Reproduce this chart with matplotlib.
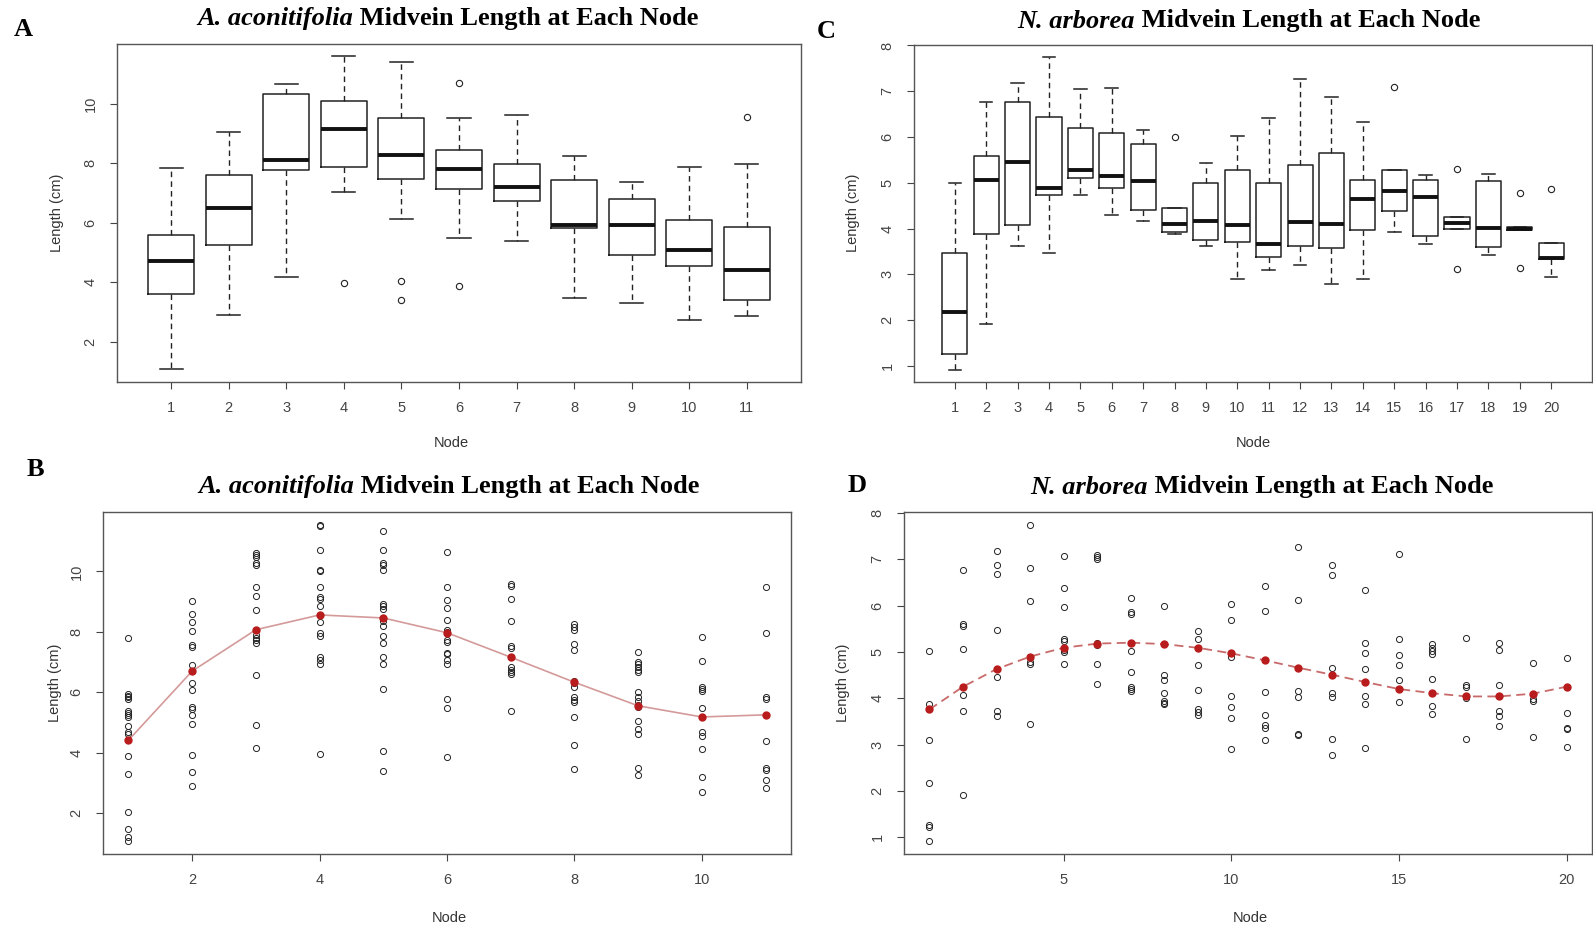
import numpy as np
import matplotlib
matplotlib.use("Agg")
import matplotlib.pyplot as plt

# ---- data ----
a_nodes = list(range(1, 12))
a_whislo = [1.09, 2.90, 4.16, 7.03, 6.13, 5.47, 5.38, 3.47, 3.28, 2.71, 2.85]
a_q1 = [3.60, 5.24, 7.77, 7.87, 7.45, 7.12, 6.74, 5.80, 4.91, 4.53, 3.41]
a_med = [4.70, 6.50, 8.11, 9.16, 8.26, 7.80, 7.19, 5.92, 5.92, 5.07, 4.42]
a_q3 = [5.57, 7.59, 10.32, 10.08, 9.52, 8.44, 7.97, 7.42, 6.80, 6.09, 5.85]
a_whishi = [7.83, 9.04, 10.65, 11.59, 11.39, 9.51, 9.61, 8.24, 7.36, 7.88, 7.97]
a_fliers = [[], [], [], [3.97], [4.04, 3.41], [10.69, 3.88], [], [], [], [], [9.55]]

c_nodes = list(range(1, 21))
c_whislo = [0.92, 1.92, 3.63, 3.46, 4.74, 4.29, 4.17, 3.88, 3.63, 2.91,
            3.10, 3.21, 2.80, 2.91, 3.93, 3.66, 3.99, 3.42, 3.96, 2.94]
c_q1 = [1.26, 3.88, 4.08, 4.74, 5.11, 4.89, 4.41, 3.93, 3.75, 3.70,
        3.39, 3.63, 3.57, 3.96, 4.38, 3.84, 3.99, 3.60, 3.96, 3.33]
c_med = [2.17, 5.06, 5.46, 4.88, 5.27, 5.15, 5.03, 4.10, 4.16, 4.07,
         3.66, 4.15, 4.10, 4.64, 4.82, 4.68, 4.13, 4.01, 4.00, 3.36]
c_q3 = [3.46, 5.59, 6.76, 6.44, 6.19, 6.09, 5.85, 4.44, 5.00, 5.28,
        5.00, 5.40, 5.66, 5.07, 5.28, 5.07, 4.26, 5.04, 4.04, 3.69]
c_whishi = [5.00, 6.76, 7.18, 7.74, 7.05, 7.08, 6.16, 4.45, 5.43, 6.03,
            6.42, 7.26, 6.87, 6.33, 5.28, 5.17, 4.26, 5.20, 4.04, 3.69]
c_fliers = [[], [], [], [], [], [], [], [6.00], [], [],
            [], [], [], [], [7.10], [], [5.31, 3.12], [], [4.78, 3.15], [4.86]]

b_points = [
    [7.79, 5.95, 5.89, 5.84, 5.78, 5.37, 5.30, 5.25, 5.19, 4.88, 4.67, 4.61, 3.89, 3.29, 2.03, 1.48, 1.21, 1.06],
    [9.01, 8.60, 8.33, 8.02, 7.57, 7.50, 6.90, 6.71, 6.30, 6.07, 5.52, 5.43, 5.25, 4.95, 3.93, 3.34, 2.90],
    [10.60, 10.55, 10.47, 10.29, 10.23, 9.50, 9.18, 8.73, 8.07, 7.89, 7.78, 7.72, 7.63, 6.57, 4.90, 4.15],
    [11.55, 11.49, 10.72, 10.06, 10.00, 9.50, 9.15, 9.10, 8.84, 8.33, 7.96, 7.85, 7.15, 7.08, 6.95, 3.95],
    [11.35, 10.72, 10.27, 10.20, 10.06, 8.91, 8.84, 8.77, 8.47, 8.35, 8.18, 7.85, 7.64, 7.18, 6.95, 6.10, 4.04, 3.38],
    [10.64, 9.48, 9.07, 8.79, 8.40, 8.05, 8.00, 7.72, 7.67, 7.31, 7.25, 7.06, 6.95, 5.76, 5.47, 3.87],
    [9.57, 9.52, 9.08, 8.35, 7.53, 7.48, 7.15, 6.82, 6.74, 6.66, 6.60, 5.38],
    [8.25, 8.16, 8.07, 7.59, 7.39, 6.37, 6.29, 6.16, 5.85, 5.74, 5.66, 5.18, 4.26, 3.45],
    [7.34, 7.01, 6.92, 6.84, 6.75, 6.68, 6.02, 5.85, 5.71, 5.59, 5.52, 5.03, 4.79, 4.61, 3.49, 3.27],
    [7.83, 7.02, 6.18, 6.09, 6.04, 5.47, 5.19, 4.67, 4.56, 4.12, 3.18, 2.70],
    [9.50, 7.95, 5.83, 5.77, 4.39, 3.49, 3.43, 3.10, 2.83],
]
b_means = [4.41, 6.70, 8.07, 8.56, 8.46, 7.97, 7.16, 6.33, 5.55, 5.18, 5.25]

d_points = [
    [5.02, 3.87, 3.09, 2.17, 1.27, 1.22, 0.91],
    [6.77, 5.61, 5.57, 5.07, 4.07, 3.72, 1.92],
    [7.18, 6.87, 6.69, 5.47, 4.47, 3.73, 3.62],
    [7.75, 6.81, 6.10, 4.79, 4.74, 3.45],
    [7.07, 6.37, 5.98, 5.28, 5.23, 5.05, 5.00, 4.75],
    [7.10, 7.05, 7.01, 5.19, 5.14, 4.75, 4.30],
    [6.17, 5.87, 5.82, 5.02, 4.56, 4.25, 4.21, 4.16],
    [6.00, 4.51, 4.40, 4.11, 3.94, 3.90, 3.87],
    [5.45, 5.29, 4.71, 4.17, 3.76, 3.71, 3.64],
    [6.03, 5.69, 4.89, 4.06, 3.81, 3.58, 2.91],
    [6.43, 5.89, 4.14, 3.64, 3.43, 3.36, 3.10],
    [7.27, 6.13, 4.15, 4.02, 3.22, 3.20],
    [6.87, 6.67, 4.66, 4.12, 4.02, 3.12, 2.78],
    [6.33, 5.19, 4.98, 4.64, 4.04, 3.87, 2.92],
    [7.11, 5.29, 4.93, 4.71, 4.39, 3.92],
    [5.18, 5.08, 5.02, 4.95, 4.41, 3.84, 3.66],
    [5.31, 4.28, 4.25, 4.00, 3.12],
    [5.20, 5.05, 4.28, 3.72, 3.61, 3.41],
    [4.77, 4.10, 3.99, 3.94, 3.16],
    [4.86, 4.25, 3.69, 3.36, 3.33, 2.94],
]
d_means = [3.76, 4.25, 4.63, 4.90, 5.09, 5.18, 5.20, 5.17, 5.09, 4.97,
           4.82, 4.66, 4.51, 4.35, 4.20, 4.11, 4.04, 4.04, 4.10, 4.25]

W, H = 1593, 927
fig = plt.figure(figsize=(W / 100, H / 100), dpi=100)
renderer = fig.canvas.get_renderer()

SANS = "Liberation Sans"
SERIF = "Liberation Serif"
FRAME = "#555555"
TXT = "#444444"


def px(x, y):
    return x / W, 1 - y / H


def make_axes(left, top, right, bottom):
    ax = fig.add_axes([left / W, 1 - bottom / H, (right - left) / W, (bottom - top) / H])
    for s in ax.spines.values():
        s.set_color(FRAME)
        s.set_linewidth(1.0)
    ax.tick_params(colors=TXT, length=5, width=0.8, labelsize=10.5)
    ax.tick_params(axis="x", pad=9)
    ax.tick_params(axis="y", pad=9)
    return ax


def style_ticks(ax):
    for lab in ax.get_xticklabels():
        lab.set_fontfamily(SANS)
    for lab in ax.get_yticklabels():
        lab.set_fontfamily(SANS)
        lab.set_rotation(90)
        lab.set_va("center")


def title(cx, cy, species, rest, size=19):
    t1 = fig.text(0, 0, species, fontfamily=SERIF, fontweight="bold", fontstyle="italic",
                  fontsize=size, va="center", ha="left")
    t2 = fig.text(0, 0, rest, fontfamily=SERIF, fontweight="bold",
                  fontsize=size, va="center", ha="left")
    w1 = t1.get_window_extent(renderer).width
    w2 = t2.get_window_extent(renderer).width
    x0 = cx - (w1 + w2) / 2
    t1.set_position(px(x0, cy))
    t2.set_position(px(x0 + w1, cy))


def labels(ylab_x, frame_mid_y, node_x, node_y):
    fig.text(*px(ylab_x, frame_mid_y), "Length (cm)", rotation=90, ha="center", va="center",
             fontfamily=SANS, fontsize=10.5, color="#333333")
    fig.text(*px(node_x, node_y), "Node", ha="center", va="center",
             fontfamily=SANS, fontsize=10.5, color="#333333")


def boxstats(nodes, lo, q1, med, q3, hi, fl):
    return [dict(whislo=lo[i], q1=q1[i], med=med[i], q3=q3[i], whishi=hi[i], fliers=fl[i])
            for i in range(len(nodes))]


def draw_box(ax, stats, nodes):
    ax.bxp(stats, positions=nodes, widths=0.8, showfliers=True,
           boxprops=dict(color="#222222", linewidth=1.1),
           whiskerprops=dict(color="#222222", linewidth=1.0, linestyle=(0, (4, 3))),
           capprops=dict(color="#222222", linewidth=1.1),
           medianprops=dict(color="#111111", linewidth=2.8),
           flierprops=dict(marker="o", markerfacecolor="none", markeredgecolor="#222222",
                           markersize=4.5, markeredgewidth=0.8))


# ---- A: boxplot ----
axA = make_axes(117, 44, 801, 382)
draw_box(axA, boxstats(a_nodes, a_whislo, a_q1, a_med, a_q3, a_whishi, a_fliers), a_nodes)
axA.set_xlim(0.06, 11.94)
axA.set_ylim(0.64, 12.0)
axA.set_xticks(a_nodes)
axA.set_xticklabels([str(n) for n in a_nodes])
axA.set_yticks([2, 4, 6, 8, 10])
axA.set_yticklabels(["2", "4", "6", "8", "10"])
style_ticks(axA)

# ---- C: boxplot ----
axC = make_axes(914, 45, 1592, 382)
draw_box(axC, boxstats(c_nodes, c_whislo, c_q1, c_med, c_q3, c_whishi, c_fliers), c_nodes)
axC.set_xlim(-0.3, 21.3)
axC.set_ylim(0.65, 8.01)
axC.set_xticks(c_nodes)
axC.set_xticklabels([str(n) for n in c_nodes])
axC.set_yticks(range(1, 9))
axC.set_yticklabels([str(v) for v in range(1, 9)])
style_ticks(axC)

# ---- B: scatter + mean line ----
axB = make_axes(103, 512, 791, 854)
for i, vals in enumerate(b_points):
    axB.plot(np.full(len(vals), a_nodes[i]), vals, "o", mfc="none", mec="#222222",
             ms=4.4, mew=0.7, zorder=2)
axB.plot(a_nodes, b_means, "-", color="#d49a9a", lw=1.2, zorder=3)
axB.plot(a_nodes, b_means, "o", color="#b81c1c", ms=5, zorder=4)
axB.set_xlim(0.6, 11.4)
axB.set_ylim(0.64, 11.97)
axB.set_xticks([2, 4, 6, 8, 10])
axB.set_xticklabels(["2", "4", "6", "8", "10"])
axB.set_yticks([2, 4, 6, 8, 10])
axB.set_yticklabels(["2", "4", "6", "8", "10"])
style_ticks(axB)

# ---- D: scatter + mean line ----
axD = make_axes(904, 512, 1592, 854)
for i, vals in enumerate(d_points):
    axD.plot(np.full(len(vals), c_nodes[i]), vals, "o", mfc="none", mec="#222222",
             ms=4.4, mew=0.7, zorder=2)
axD.plot(c_nodes, d_means, "--", color="#c86a6a", lw=1.3, dashes=(5, 3), zorder=3)
axD.plot(c_nodes, d_means, "o", color="#b81c1c", ms=5, zorder=4)
axD.set_xlim(0.24, 20.76)
axD.set_ylim(0.64, 8.02)
axD.set_xticks([5, 10, 15, 20])
axD.set_xticklabels(["5", "10", "15", "20"])
axD.set_yticks(range(1, 9))
axD.set_yticklabels([str(v) for v in range(1, 9)])
style_ticks(axD)

# ---- axis titles ----
labels(57, 213, 451, 443)
labels(853, 213, 1253, 443)
labels(55, 683, 449, 918)
labels(843, 683, 1250, 918)

# ---- panel titles and letters ----
title(448, 19, "A. aconitifolia", " Midvein Length at Each Node")
title(1249, 21, "N. arborea", " Midvein Length at Each Node")
title(449, 487, "A. aconitifolia", " Midvein Length at Each Node")
title(1262, 487, "N. arborea", " Midvein Length at Each Node")

for letter, (x, y) in {"A": (23, 29), "B": (35, 469), "C": (826, 32), "D": (857, 486)}.items():
    fig.text(*px(x, y), letter, fontfamily=SERIF, fontweight="bold", fontsize=19,
             ha="center", va="center")

fig.savefig("out.png", dpi=100)
